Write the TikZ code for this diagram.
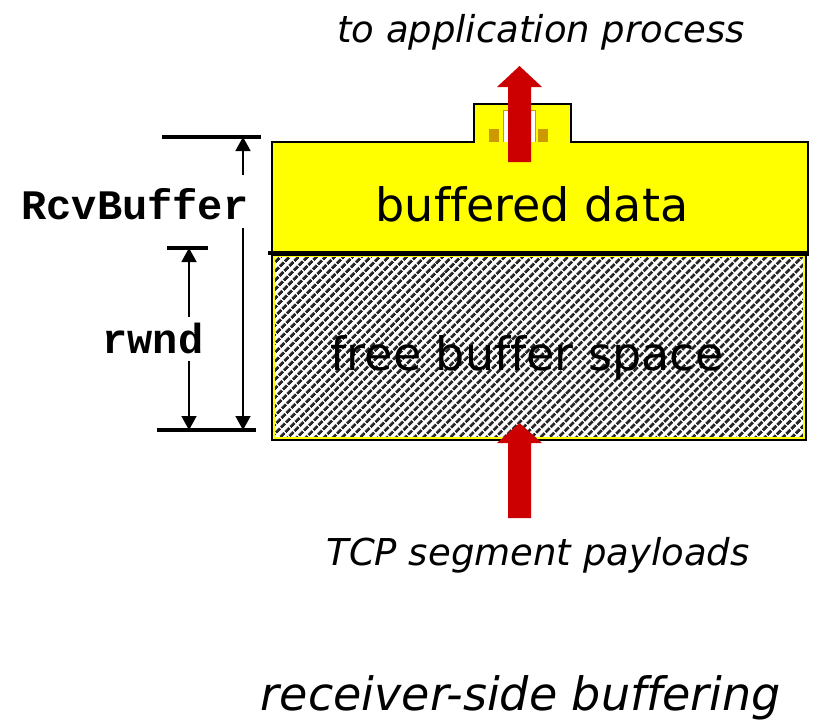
\documentclass[tikz,border=0pt]{standalone}
\usepackage{fontspec}
\setmainfont{DejaVu Sans}[Ligatures={NoCommon}]
\setmonofont{Liberation Mono}
\usetikzlibrary{arrows.meta,patterns.meta}
\definecolor{tcpred}{HTML}{CC0000}
\definecolor{tcpyellow}{HTML}{FFFF00}
\definecolor{tcpgold}{HTML}{CC9900}
\tikzset{
  dimline/.style={line width=3.2pt, line cap=butt},
  dimarrow/.style={line width=1.6pt, -{Triangle[width=15pt,length=14pt]}},
  bigarrow/.style={fill=tcpred, draw=none},
  lbl/.style={inner sep=0pt, anchor=base},
}
\begin{document}
\begin{tikzpicture}[x=1pt,y=-1pt]
\useasboundingbox (0,0) rectangle (817,723);
% hatched free space
\path[fill=white] (272,255) rectangle (806,440);
\path[pattern={Lines[angle=45,distance=6.5pt,line width=3.2pt]}, pattern color=black!85] (272,255) rectangle (806,440);
\draw[tcpyellow, line width=1.2pt] (274,256) rectangle (804,438);
\draw[black, line width=1.2pt] (272,255) rectangle (806,440);
\node[lbl, font=\fontsize{46}{46}\selectfont] (free) at (527,370) {free buffer space};
% buffered data
\draw[fill=tcpyellow, line width=1.5pt] (272,142) rectangle (808,255);
\draw[line width=3.5pt] (268,253) coordinate (tl) -- (808,253) coordinate (tr);
\node[lbl, font=\fontsize{46}{46}\selectfont] (buf) at (532,221) {buffered data};
% small box on top
\path[fill=tcpyellow] (474,104) rectangle (571,143);
\draw[line width=1.5pt] (474,142.5) -- (474,104) -- (571,104) -- (571,142.5);
\draw[tcpgold, fill=white, line width=1pt] (503,142) -- (503,110) -- (535,110) -- (535,142);
\fill[tcpgold] (489,129) rectangle (499,142);
\fill[tcpgold] (538,129) rectangle (548,142);
% red arrows
\path[bigarrow] (508,162) -- (508,87) -- (497,87) -- (519.5,66) -- (542,87) -- (531,87) -- (531,162) -- cycle;
\path[bigarrow] (508,518) -- (508,443) -- (497,443) -- (519.5,423) -- (542,443) -- (531,443) -- (531,518) -- cycle;
% labels
\node[lbl, font=\fontsize{37}{37}\selectfont\itshape] (app) at (541,42) {to application process};
\node[lbl, font=\fontsize{37}{37}\selectfont\itshape] (tcp) at (538,565) {TCP segment payloads};
\node[lbl, font=\fontsize{46}{46}\selectfont\itshape] (recv) at (521,710) {receiver-side buffering};
% dimension lines
\coordinate (rtop) at (243,137);
\coordinate (rbot) at (243,430);
\coordinate (wtop) at (189,248);
\coordinate (wbot) at (189,430);
\draw[dimline] (162,137) -- (261,137);
\draw[dimline] (157,430) -- (256,430);
\draw[dimline] (167,248) -- (208,248);
\node[lbl, font=\fontsize{42}{42}\selectfont\ttfamily\bfseries] (rcv) at (135,219) {RcvBuffer};
\node[lbl, font=\fontsize{42}{42}\selectfont\ttfamily\bfseries] (rwnd) at (153,353) {rwnd};
\draw[dimarrow] (243,175) -- (rtop);
\draw[dimarrow] (243,228) -- (rbot);
\draw[dimarrow] (189,317) -- (wtop);
\draw[dimarrow] (189,361) -- (wbot);
\end{tikzpicture}
\end{document}
